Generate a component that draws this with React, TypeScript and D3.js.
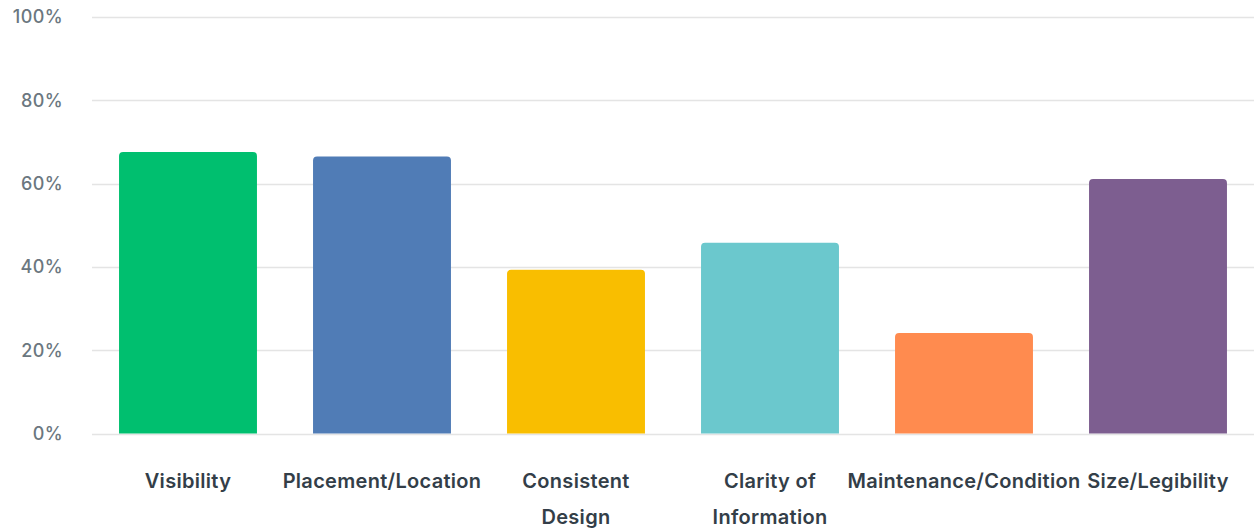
import React, { useEffect, useRef } from "react";
import * as d3 from "d3";

const categories = [
  "Visibility",
  "Placement/Location",
  "Consistent Design",
  "Clarity of Information",
  "Maintenance/Condition",
  "Size/Legibility",
];
const values = [67.6, 66.5, 39.3, 45.8, 24.1, 61.1];
const colors = ["#00BF6F", "#507CB6", "#F9BE00", "#6BC8CD", "#FF8B4F", "#7D5E90"];
const yTicks = [0, 20, 40, 60, 80, 100];

const W = 1254;
const H = 532;
const margin = { left: 92, right: 0, top: 17, bottom: 98.5 };

export default function App() {
  const ref = useRef<SVGSVGElement>(null);

  useEffect(() => {
    const svg = d3.select(ref.current);
    svg.selectAll("*").remove();

    const x = d3
      .scaleBand<string>()
      .domain(categories)
      .range([91, 1255])
      .paddingInner(0.289)
      .paddingOuter(0.1445);
    const y = d3.scaleLinear().domain([0, 100]).range([H - margin.bottom, margin.top]);

    const font = "Inter, 'Open Sans', sans-serif";

    // grid
    svg
      .append("g")
      .selectAll("line")
      .data(yTicks)
      .join("line")
      .attr("x1", margin.left)
      .attr("x2", W - margin.right)
      .attr("y1", (d) => Math.round(y(d)) + 0.5)
      .attr("y2", (d) => Math.round(y(d)) + 0.5)
      .attr("stroke", "#e4e4e4")
      .attr("stroke-width", 1.5);

    // y labels
    svg
      .append("g")
      .selectAll("text")
      .data(yTicks)
      .join("text")
      .attr("x", 63)
      .attr("y", (d) => y(d))
      .attr("dy", "0.36em")
      .attr("text-anchor", "end")
      .attr("font-family", font)
      .attr("font-size", 18)
      .attr("letter-spacing", 0.4)
      .attr("font-weight", 500)
      .attr("fill", "#6b7780")
      .text((d) => `${d}%`);

    // bars with rounded top corners
    const r = 4;
    svg
      .append("g")
      .selectAll("path")
      .data(categories)
      .join("path")
      .attr("d", (c, i) => {
        const x0 = x(c)!;
        const x1 = x0 + x.bandwidth();
        const y0 = y(0);
        const y1 = y(values[i]);
        return `M${x0},${y0} L${x0},${y1 + r} Q${x0},${y1} ${x0 + r},${y1} L${x1 - r},${y1} Q${x1},${y1} ${x1},${y1 + r} L${x1},${y0} Z`;
      })
      .attr("fill", (_, i) => colors[i]);

    // x labels with wrapping
    const labels = svg
      .append("g")
      .selectAll("text")
      .data(categories)
      .join("text")
      .attr("x", (c) => x(c)! + x.bandwidth() / 2)
      .attr("y", 488)
      .attr("text-anchor", "middle")
      .attr("font-family", font)
      .attr("font-size", 20)
      .attr("letter-spacing", 0.3)
      .attr("font-weight", 600)
      .attr("fill", "#333e48");

    const maxW = 170;
    labels.each(function (c) {
      const t = d3.select(this);
      const words = c.split(" ");
      let line: string[] = [];
      let tspan = t.append("tspan").attr("x", t.attr("x")).attr("dy", 0);
      for (const w of words) {
        line.push(w);
        tspan.text(line.join(" "));
        if ((tspan.node() as SVGTSpanElement).getComputedTextLength() > maxW && line.length > 1) {
          line.pop();
          tspan.text(line.join(" "));
          line = [w];
          tspan = t.append("tspan").attr("x", t.attr("x")).attr("dy", 36).text(w);
        }
      }
    });
  }, []);

  return (
    <svg
      ref={ref}
      width={W}
      height={H}
      style={{ position: "absolute", left: 0, top: 0, background: "#fff" }}
    />
  );
}
